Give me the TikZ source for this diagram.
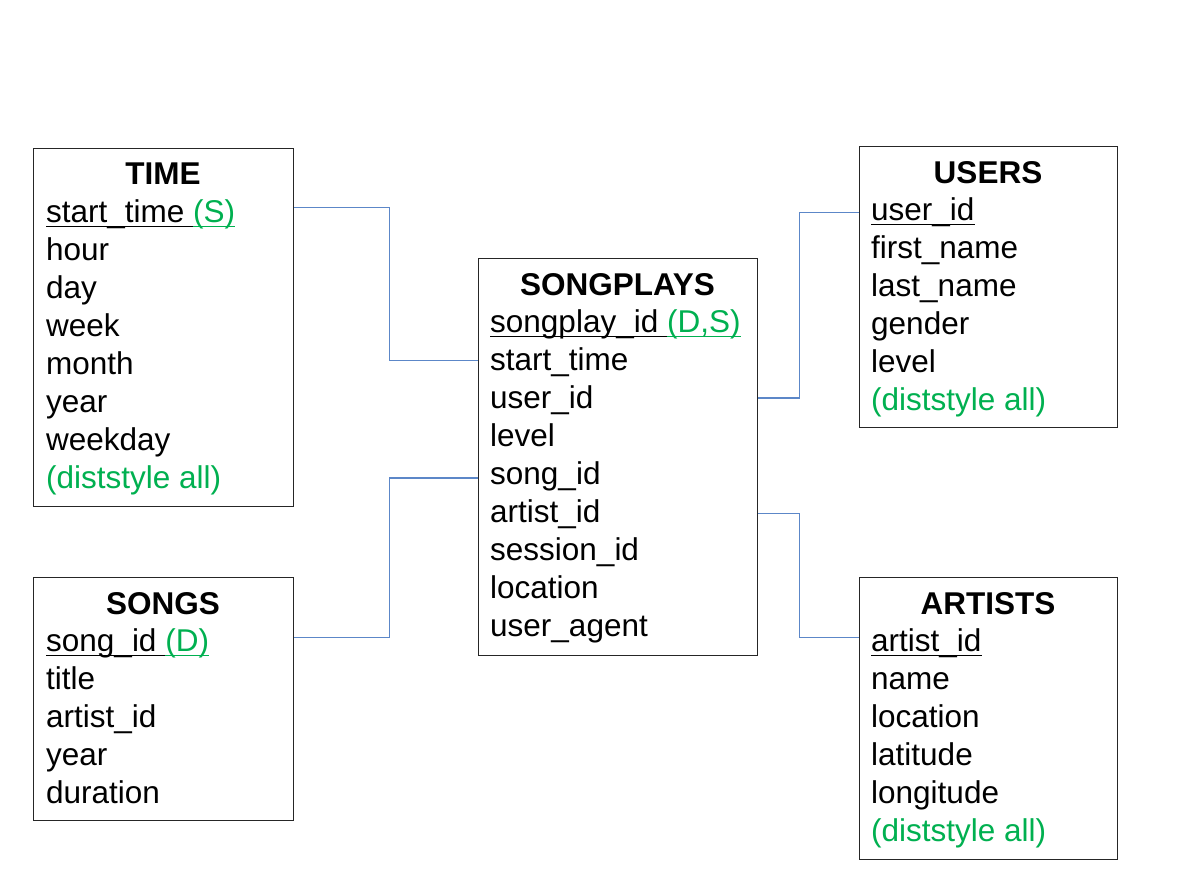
\documentclass[tikz,border=0pt]{standalone}
\usepackage{fontspec}
\setmainfont{Liberation Sans}
\definecolor{pg}{RGB}{0,176,80}
\definecolor{cn}{RGB}{92,135,200}
\newcommand\ulx[1]{\setbox0\hbox{#1}\rlap{\rule[-4.5pt]{\wd0}{1.8pt}}\box0}
\begin{document}
\begin{tikzpicture}[x=1pt,y=-1pt,
  tbl/.style={draw=black!85, line width=1.3pt, anchor=north west, inner sep=0pt, fill=white},
  row/.style={anchor=base west, inner sep=0pt, font=\fontsize{31.5}{38}\selectfont},
  ttl/.style={anchor=base, inner sep=0pt, font=\bfseries\fontsize{31.5}{38}\selectfont},
  conn/.style={draw=cn, line width=1.3pt}]
\useasboundingbox[fill=white] (0,0) rectangle (1189,888);

% TIME
\node[tbl, minimum width=260pt, minimum height=358pt] (time) at (33,148) {};
\node[ttl] (timet) at (163,185) {TIME};
\node[row] (t1) at (46,{185+37.9}) {\ulx{start\_time\ }\textcolor{pg}{\ulx{(S)}}};
\foreach \t [count=\i from 2] in {hour,day,week,month,year,weekday}
  \node[row] (t\i) at (46,{185+37.9*\i}) {\t};
\node[row] (t8) at (46,{185+37.9*8}) {\textcolor{pg}{(diststyle all)}};

% SONGS
\node[tbl, minimum width=260pt, minimum height=243pt] (songs) at (33,577) {};
\node[ttl] (songst) at (163,614) {SONGS};
\node[row] (s1) at (46,{614+37.9}) {\ulx{song\_id\ }\textcolor{pg}{\ulx{(D)}}};
\foreach \t [count=\i from 2] in {title,artist\_id,year,duration}
  \node[row] (s\i) at (46,{614+37.9*\i}) {\t};

% SONGPLAYS
\node[tbl, minimum width=279pt, minimum height=397pt] (sp) at (478,258) {};
\node[ttl] (spt) at (617.5,295) {SONGPLAYS};
\node[row] (p1) at (490,{295+37.9}) {\ulx{songplay\_id\ }\textcolor{pg}{\ulx{(D,S)}}};
\foreach \t [count=\i from 2] in {start\_time,user\_id,level,song\_id,artist\_id,session\_id,location,user\_agent}
  \node[row] (p\i) at (490,{295+37.9*\i}) {\t};

% USERS
\node[tbl, minimum width=258pt, minimum height=281pt] (users) at (859,146) {};
\node[ttl] (userst) at (988,183) {USERS};
\node[row] (u1) at (871,{183+37.9}) {\ulx{user\_id}};
\foreach \t [count=\i from 2] in {first\_name,last\_name,gender,level}
  \node[row] (u\i) at (871,{183+37.9*\i}) {\t};
\node[row] (u6) at (871,{183+37.9*6}) {\textcolor{pg}{(diststyle all)}};

% ARTISTS
\node[tbl, minimum width=258pt, minimum height=282pt] (artists) at (859,577) {};
\node[ttl] (artistst) at (988,614) {ARTISTS};
\node[row] (a1) at (871,{614+37.9}) {\ulx{artist\_id}};
\foreach \t [count=\i from 2] in {name,location,latitude,longitude}
  \node[row] (a\i) at (871,{614+37.9*\i}) {\t};
\node[row] (a6) at (871,{614+37.9*6}) {\textcolor{pg}{(diststyle all)}};

% connectors
\draw[conn] ([yshift=13pt]time.east |- t1.mid) -- ++(95,0) |- ([yshift=8pt]sp.west |- p2.mid);
\draw[conn] ([yshift=12pt]songs.east |- s1.mid) -- ++(95,0) |- ([yshift=4pt]sp.west |- p5.mid);
\draw[conn] ([yshift=8pt]sp.east |- p3.mid) -- ++(41,0) |- ([yshift=6pt]users.west |- u1.mid);
\draw[conn] ([yshift=6pt]sp.east |- p6.mid) -- ++(41,0) |- ([yshift=12pt]artists.west |- a1.mid);
\end{tikzpicture}
\end{document}
